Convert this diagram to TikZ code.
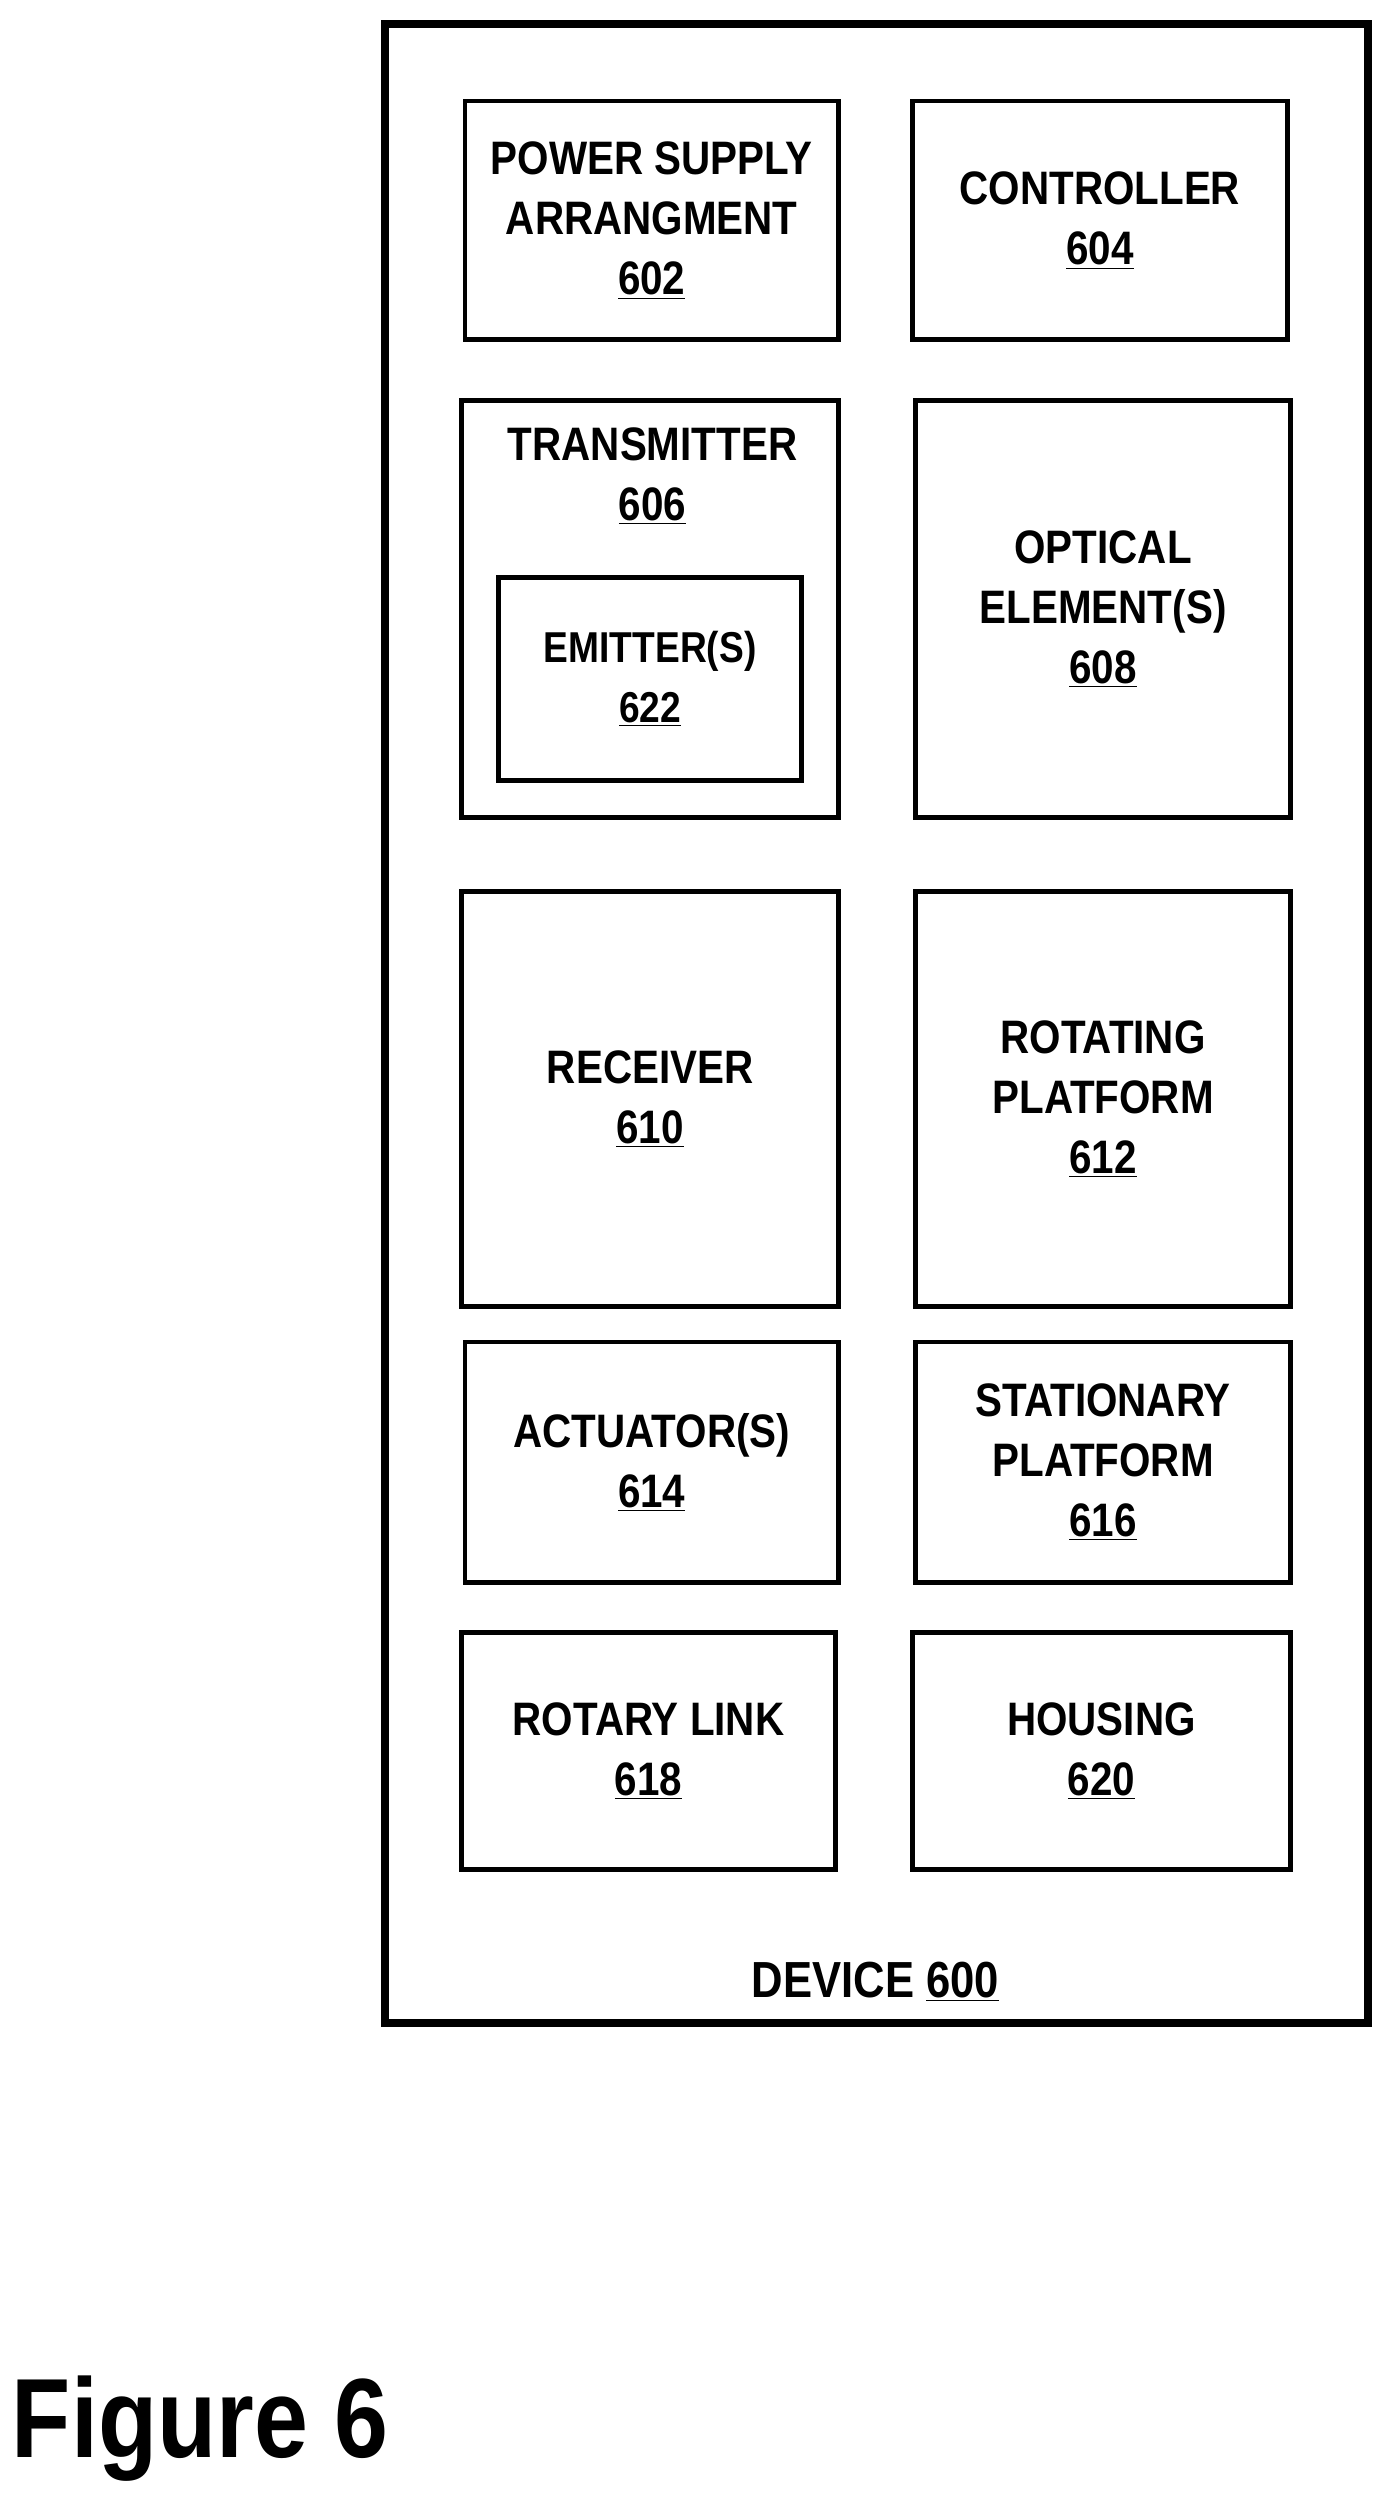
\documentclass[tikz,border=0pt]{standalone}
\usepackage{fontspec}
\setmainfont{Liberation Sans}[FakeStretch=0.86]
\usetikzlibrary{positioning}
\tikzset{
  part/.style={draw, line width=2.6pt, align=center, inner sep=0pt,
    font=\bfseries\fontsize{25}{32}\selectfont},
  lbl/.style={align=center, font=\bfseries\fontsize{25}{32}\selectfont}
}
\newcommand{\num}[1]{\underline{#1}}

\begin{document}
\begin{tikzpicture}[x=0.03cm, y=-0.03cm]
		\useasboundingbox (0,0) rectangle (866,1563);

		% outer device
		\draw[line width=4.2pt] (240,15) rectangle (853,1262);
		\node[lbl, font=\bfseries\fontsize{27}{32}\selectfont] (device) at (546,1236) {DEVICE \num{600}};

		% top row
		\node[part, minimum width=233*0.03cm, minimum height=149*0.03cm] (power) at (406.5,137.5) {POWER SUPPLY\\ARRANGMENT\\\num{602}};
		\node[part, minimum width=234*0.03cm, minimum height=149*0.03cm] (ctrl) at (686,137.5) {CONTROLLER\\\num{604}};

		% transmitter with emitter
		\node[part, minimum width=235*0.03cm, minimum height=260*0.03cm] (tx) at (405.5,380) {};
		\node[lbl] (txlabel) at (407,297) {TRANSMITTER\\\num{606}};
		\node[part, minimum width=189*0.03cm, minimum height=127*0.03cm, font=\bfseries\fontsize{23}{32}\selectfont] (emit) at (405.5,423.5) {EMITTER(S)\\\num{622}};
		\node[part, minimum width=234*0.03cm, minimum height=260*0.03cm] (optic) at (688,380) {OPTICAL\\ELEMENT(S)\\\num{608}};

		% middle row
		\node[part, minimum width=235*0.03cm, minimum height=259*0.03cm] (rx) at (405.5,685.5) {RECEIVER\\\num{610}};
		\node[part, minimum width=234*0.03cm, minimum height=259*0.03cm] (rotplat) at (688,685.5) {ROTATING\\PLATFORM\\\num{612}};

		\node[part, minimum width=233*0.03cm, minimum height=150*0.03cm] (act) at (406.5,912) {ACTUATOR(S)\\\num{614}};
		\node[part, minimum width=234*0.03cm, minimum height=150*0.03cm] (statplat) at (688,912) {STATIONARY\\PLATFORM\\\num{616}};

		% bottom row
		\node[part, minimum width=233*0.03cm, minimum height=148*0.03cm] (link) at (404.5,1092) {ROTARY LINK\\\num{618}};
		\node[part, minimum width=236*0.03cm, minimum height=148*0.03cm] (house) at (687,1092) {HOUSING\\\num{620}};

		\node[font=\bfseries\fontsize{60}{70}\selectfont] (fig) at (125,1515) {Figure 6};
	\end{tikzpicture}
\end{document}
